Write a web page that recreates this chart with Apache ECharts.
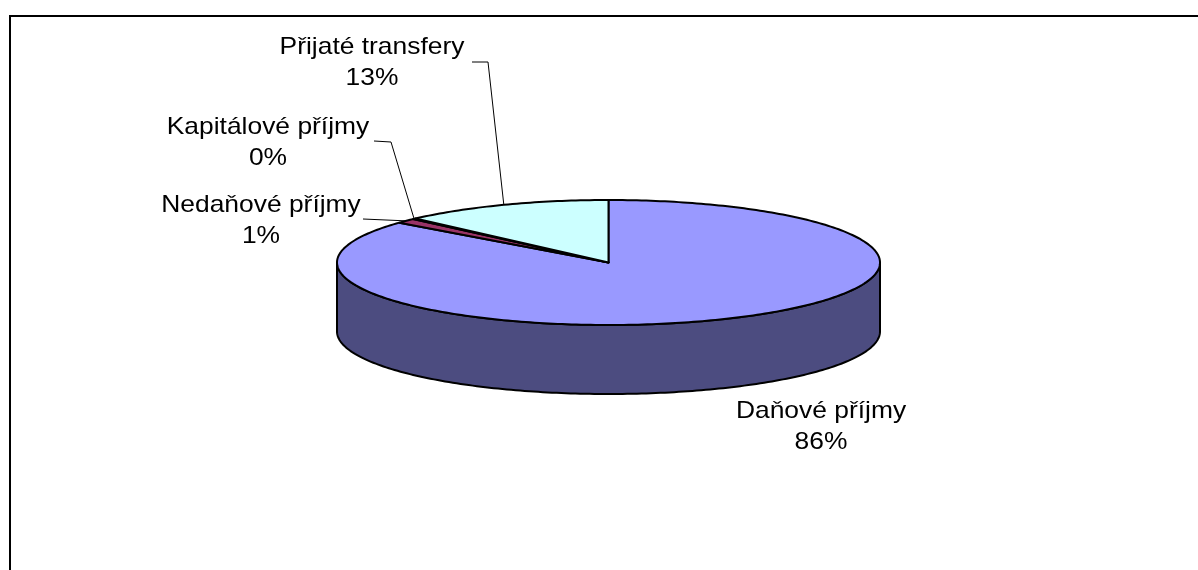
<!DOCTYPE html>
<html><head><meta charset="utf-8">
<script src="https://cdn.jsdelivr.net/npm/echarts@6/dist/echarts.min.js"></script>
<style>html,body{margin:0;padding:0;background:#fff}#c{width:1198px;height:570px}</style>
</head><body><div id="c"></div>
<script>
// ---- data ----
const categories = ['Daňové příjmy', 'Nedaňové příjmy', 'Kapitálové příjmy', 'Přijaté transfery'];
const values = [86.0, 1.2, 0.2, 12.6];
const topColors = ['#9999FF', '#993366', '#FFFFCC', '#CCFFFF'];
const sideColors = ['#4C4C80', '#4D1A33', '#808066', '#668080'];

// ---- layout ----
const PIE = { cx: 608.5, cy: 262.5, rx: 271.5, ry: 62.5, depth: 69 };
const LABELS = [
  { x: 821, y: 427, leader: null },
  { x: 261, y: 221, leader: [[363, 219]] },
  { x: 268, y: 142.5, leader: [[374, 141], [391, 142]] },
  { x: 372, y: 62.5, leader: [[472, 62], [488, 62]] }
];
const FONT = '24px "Liberation Sans", Arial, sans-serif';

const total = values.reduce((a, b) => a + b, 0);

function pt(deg, dy) {
  const r = deg * Math.PI / 180;
  return [PIE.cx + PIE.rx * Math.sin(r), PIE.cy - PIE.ry * Math.cos(r) + (dy || 0)];
}
function arc(a0, a1, dy) {
  const pts = [];
  const n = Math.max(2, Math.ceil(Math.abs(a1 - a0) / 1));
  for (let k = 0; k <= n; k++) pts.push(pt(a0 + (a1 - a0) * k / n, dy));
  return pts;
}

function renderItem(params, api) {
  const i = params.dataIndex;
  const v = api.value(0);
  let before = 0;
  for (let k = 0; k < i; k++) before += values[k];
  const a0 = before / total * 360;
  const a1 = (before + v) / total * 360;
  const children = [];
  // visible outer wall (front half)
  const s = Math.max(a0, 90), e = Math.min(a1, 270);
  if (e > s) {
    const pts = arc(s, e, 0).concat(arc(e, s, PIE.depth));
    children.push({
      type: 'polygon', shape: { points: pts },
      style: { fill: sideColors[i], stroke: '#000', lineWidth: 2, lineJoin: 'round' }
    });
  }
  // top face
  const topPts = [[PIE.cx, PIE.cy]].concat(arc(a0, a1, 0));
  children.push({
    type: 'polygon', shape: { points: topPts }, z2: 2,
    style: { fill: topColors[i], stroke: '#000', lineWidth: 2, lineJoin: 'round' }
  });
  // label
  const L = LABELS[i];
  const pct = Math.round(v / total * 100) + '%';
  children.push({
    type: 'text', x: L.x, y: L.y, scaleX: 1.1, z2: 10,
    style: {
      text: categories[i] + '\n' + pct, x: 0, y: 0, font: FONT, fill: '#000',
      align: 'center', verticalAlign: 'middle', textAlign: 'center', textVerticalAlign: 'middle',
      lineHeight: 31
    }
  });
  if (L.leader) {
    const mid = pt((a0 + a1) / 2, 0);
    children.push({
      type: 'polyline', z2: 10, shape: { points: L.leader.concat([mid]) },
      style: { stroke: '#000', lineWidth: 1, fill: null }
    });
  }
  return { type: 'group', children };
}

const chart = echarts.init(document.getElementById('c'), null, { renderer: 'canvas' });
chart.setOption({
  animation: false,
  backgroundColor: '#fff',
  graphic: [{
    type: 'rect', shape: { x: 10, y: 16, width: 1400, height: 800 },
    style: { fill: null, stroke: '#000', lineWidth: 2 }, silent: true
  }],
  series: [{
    type: 'custom',
    coordinateSystem: 'none',
    renderItem: renderItem,
    data: values.map((v, i) => ({ name: categories[i], value: [v] }))
  }]
});
</script></body></html>
